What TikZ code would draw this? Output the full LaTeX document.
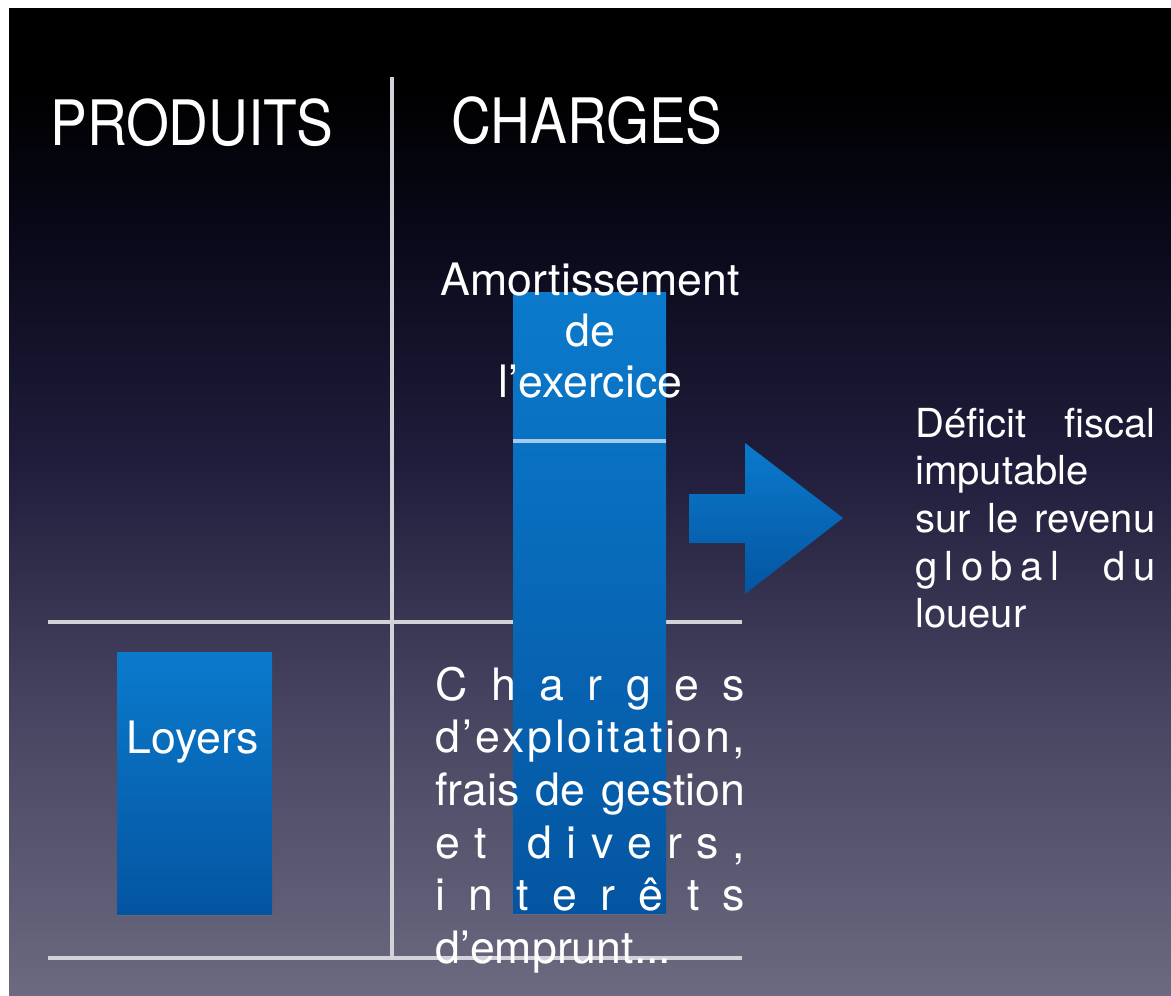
\documentclass[tikz,border=0pt]{standalone}
\usepackage{fontspec}
\setmainfont{TeX Gyre Heros}
\newfontfamily\headfont{TeX Gyre Heros}[FakeStretch=0.88]
\usetikzlibrary{positioning,shadows}
\definecolor{ink}{HTML}{FFFFFF}
\definecolor{rule}{HTML}{D2D2D8}
\definecolor{barblue}{HTML}{0B7ACC}
\definecolor{bardeep}{HTML}{0455A1}
\definecolor{barline}{HTML}{A4CBEC}
\definecolor{bgtop}{HTML}{000000}
\definecolor{bgdark}{HTML}{080818}
\definecolor{bgmid}{HTML}{1F1D3B}
\definecolor{bglow}{HTML}{45435F}
\definecolor{bgbottom}{HTML}{6B6A80}
\pgfdeclareverticalshading{slidebg}{100bp}{color(0bp)=(bgbottom); color(25bp)=(bgbottom); color(40bp)=(bglow); color(52bp)=(bgmid); color(64bp)=(bgdark); color(71bp)=(bgtop); color(100bp)=(bgtop)}
% justified lines: spread the glue, or spread every letter
\newcommand{\spreadline}[1]{\makebox[\linewidth][s]{#1}}
\makeatletter
\newcommand{\spreadletters}[1]{\makebox[\linewidth][s]{\@tfor\spr@tok:=#1\do{\spr@tok\hfill}\unskip}}
\makeatother
\tikzset{
  every node/.style={text=ink, inner sep=0pt},
  head/.style={font=\headfont\fontsize{47}{47}\selectfont, anchor=base west},
  bodytext/.style={font=\fontsize{33.5}{39.5}\selectfont, anchor=base},
  sidetext/.style={font=\fontsize{30}{35.8}\selectfont, anchor=base west},
  rulepen/.style={draw=rule, line width=2.6pt},
  bluebox/.style={top color=barblue, bottom color=bardeep, draw=none, drop shadow={opacity=0.3, shadow xshift=0pt, shadow yshift=-1.5pt}},
}

\begin{document}
\begin{tikzpicture}[x=0.75pt, y=-0.75pt]
\useasboundingbox (0,0) rectangle (1171,996);
\fill[white] (0,0) rectangle (1171,996);
\shade[shading=slidebg] (9,8) rectangle (1171,996);
% table rules
\coordinate (vtop) at (392,77);
\coordinate (vbot) at (392,960);
\coordinate (midl) at (48,622);
\coordinate (midr) at (742,622);
\coordinate (botl) at (48,958);
\coordinate (botr) at (742,958);
\draw[rulepen] (vtop) -- (vbot);
\draw[rulepen] (midl) -- (midr);
\draw[rulepen] (botl) -- (botr);
\node[head] (prod) at (50,145) {PRODUITS};
\node[head] (chrg) at (451,143) {CHARGES};
% bars
\node[bluebox, minimum width=116.25pt, minimum height=196.5pt] (loyers) at (194.5,783) {};
\node[bluebox, minimum width=114.75pt, minimum height=465.75pt] (bar) at (589.5,602.5) {};
\draw[draw=barline, line width=2.6pt] (bar.west |- 0,441) -- (bar.east |- 0,441);
\node[bodytext] (loyerstext) at (193,753) {Loyers};
\node[bodytext] (amort) at (590.5,295) {\parbox[t]{250pt}{\centering\baselineskip=38.6pt
  Amortissement\\de\\l'exercice}};
\node[bodytext, anchor=base west] (chgtext) at (435,700) {\parbox[t]{232.5pt}{%
  \spreadletters{Charges}\\
  \spreadletters{d'exploitation,}\\
  \spreadline{frais de gestion}\\
  \spreadletters{et{\ }divers,}\\
  \spreadletters{interêts}\\
  d'emprunt...}};
% result
\shade[top color=barblue, bottom color=bardeep] (689,494) -- (745,494) -- (745,443) -- (843,518) -- (745,594) -- (745,543) -- (689,543) -- cycle;
\node[sidetext] (deficit) at (915,437) {\parbox[t]{180pt}{%
  \spreadline{Déficit fiscal}\\
  imputable\\
  \spreadline{sur le revenu}\\
  \spreadletters{global{\ }{\ }du}\\
  loueur}};
\end{tikzpicture}
\end{document}
